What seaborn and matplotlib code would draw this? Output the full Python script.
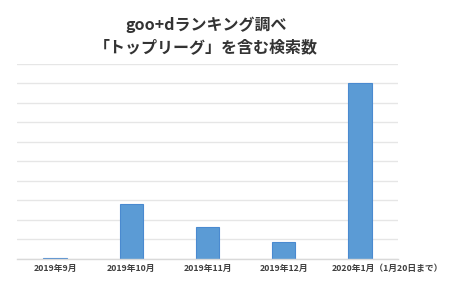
import matplotlib
matplotlib.use("Agg")
import matplotlib.pyplot as plt
import matplotlib.transforms as mtransforms
import seaborn as sns
import pandas as pd

categories = ["2019年9月", "2019年10月", "2019年11月", "2019年12月", "2020年1月（1月20日まで）"]
values = [0.05, 2.8, 1.63, 0.89, 9.0]
title_lines = ["goo+dランキング調べ", "「トップリーグ」を含む検索数"]

sns.set_theme(style="white")
plt.rcParams['font.family'] = ['Noto Sans CJK JP', 'DejaVu Sans']

df = pd.DataFrame({"month": categories, "count": values})

fig = plt.figure(figsize=(4.5, 3.0), dpi=100)
ax = fig.add_axes([0.038, 0.137, 0.846, 0.651])
sns.barplot(data=df, x="month", y="count", ax=ax, color="#5b9bd5",
            edgecolor="#4a8ad0", linewidth=0.8, width=0.31, saturation=1)
ax.set_ylim(0, 10)
ax.set_yticks(range(0, 11))
ax.yaxis.grid(True, color="#e6e6e6", linewidth=1)
ax.set_axisbelow(True)
ax.set_yticklabels([])
ax.tick_params(axis='y', length=0)
ax.tick_params(axis='x', length=0, labelsize=6.3, labelcolor="#404040", pad=4)
labels = ax.get_xticklabels()
for lab in labels:
    lab.set_fontweight("bold")
# last label sits to the right of its bar, as in the reference
last = labels[-1]
last.set_transform(last.get_transform() + mtransforms.ScaledTranslation(0.28, 0, fig.dpi_scale_trans))
ax.set_xlabel("")
ax.set_ylabel("")
for s in ["top", "left", "right"]:
    ax.spines[s].set_visible(False)
ax.spines["bottom"].set_color("#d9d9d9")
ax.spines["bottom"].set_linewidth(1)

fig.text(0.458, 0.918, title_lines[0], ha="center", va="center", fontsize=11.5,
         color="#333333", fontweight="bold")
fig.text(0.458, 0.842, title_lines[1], ha="center", va="center", fontsize=11.5,
         color="#333333", fontweight="bold")

fig.savefig("out.png", dpi=100, facecolor="white")
